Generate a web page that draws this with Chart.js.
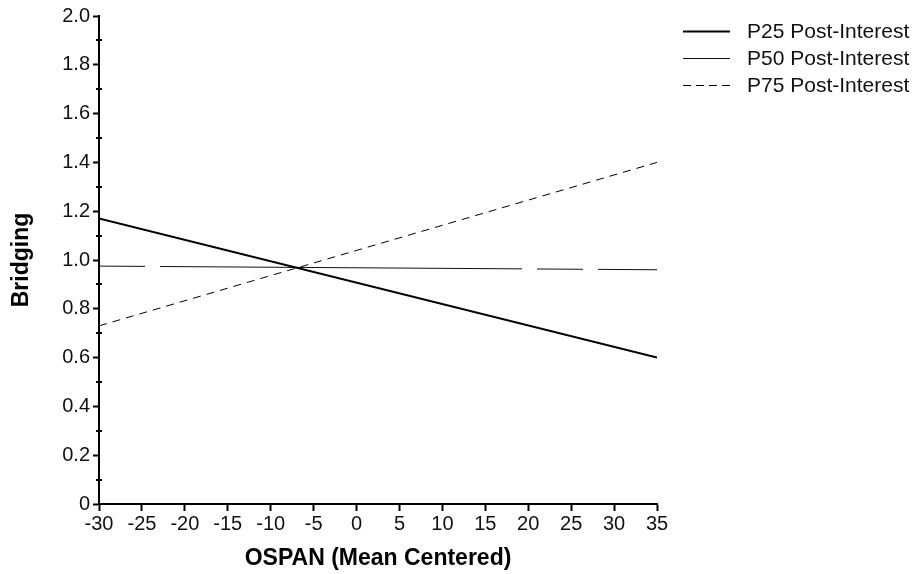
<!DOCTYPE html>
<html>
<head>
<meta charset="utf-8">
<script src="https://cdn.jsdelivr.net/npm/chart.js@4.4.1/dist/chart.umd.min.js"></script>
<style>
  html, body { margin: 0; padding: 0; background: #fff; }
  canvas { display: block; }
</style>
</head>
<body>
<canvas id="chart" width="917" height="574"></canvas>
<script>
// values
const ospan = [-30, 35];
const p25 = [1.17, 0.60];
const p50 = [0.975, 0.96];
const p75 = [0.73, 1.40];
const seriesLabels = ['P25 Post-Interest', 'P50 Post-Interest', 'P75 Post-Interest'];

const xTicks = [-30, -25, -20, -15, -10, -5, 0, 5, 10, 15, 20, 25, 30, 35];
const yTicks = [0, 0.2, 0.4, 0.6, 0.8, 1.0, 1.2, 1.4, 1.6, 1.8, 2.0];
const yMinorTicks = [0.1, 0.3, 0.5, 0.7, 0.9, 1.1, 1.3, 1.5, 1.7, 1.9];

const FONT = '"Liberation Sans", Arial, Helvetica, sans-serif';

function points(ys) {
  return ospan.map((x, i) => ({ x, y: ys[i] }));
}

// minor ticks crossing the y axis + the line legend on the right
const extras = {
  id: 'extras',
  afterDraw(chart) {
    const ctx = chart.ctx;
    const ys = chart.scales.y;
    const axisX = chart.chartArea.left;
    ctx.save();
    ctx.strokeStyle = '#000';
    ctx.lineWidth = 2;
    yMinorTicks.forEach(v => {
      const py = Math.round(ys.getPixelForValue(v));
      ctx.beginPath();
      ctx.moveTo(axisX - 3, py);
      ctx.lineTo(axisX + 3, py);
      ctx.stroke();
    });

    chart.data.datasets.forEach((ds, i) => {
      const y = 31 + i * 27;
      ctx.strokeStyle = ds.borderColor;
      ctx.lineWidth = ds.borderWidth;
      ctx.setLineDash(ds.legendDash || []);
      ctx.beginPath();
      ctx.moveTo(683, y + 0.5);
      ctx.lineTo(730, y + 0.5);
      ctx.stroke();
      ctx.setLineDash([]);
      ctx.fillStyle = '#111';
      ctx.font = '21px ' + FONT;
      ctx.textBaseline = 'middle';
      ctx.textAlign = 'left';
      ctx.fillText(ds.label, 747, y + 1);
    });
    ctx.restore();
  }
};

new Chart(document.getElementById('chart'), {
  type: 'line',
  data: {
    datasets: [
      {
        label: seriesLabels[0],
        data: points(p25),
        borderColor: '#000',
        borderWidth: 2,
        legendDash: []
      },
      {
        label: seriesLabels[1],
        data: points(p50),
        borderColor: '#111',
        borderWidth: 1,
        borderDash: [46, 15, 362, 15],
        legendDash: []
      },
      {
        label: seriesLabels[2],
        data: points(p75),
        borderColor: '#000',
        borderWidth: 1,
        borderDash: [8, 6],
        legendDash: [8, 5]
      }
    ]
  },
  options: {
    responsive: false,
    animation: false,
    events: [],
    elements: {
      point: { radius: 0 },
      line: { tension: 0, fill: false }
    },
    layout: { padding: { left: 0, top: 16, right: 260, bottom: 0 } },
    plugins: {
      legend: { display: false },
      tooltip: { enabled: false }
    },
    scales: {
      x: {
        type: 'linear',
        min: -30,
        max: 35,
        afterBuildTicks: s => { s.ticks = xTicks.map(v => ({ value: v })); },
        afterFit: s => { s.height = 70; },
        border: { display: true, color: '#000', width: 2 },
        grid: { drawOnChartArea: false, drawTicks: true, tickLength: 7, tickWidth: 2, tickColor: '#000' },
        ticks: {
          color: '#111',
          font: { family: FONT, size: 20 },
          padding: 1,
          maxRotation: 0,
          callback: v => String(v)
        },
        title: {
          display: true,
          text: 'OSPAN (Mean Centered)',
          color: '#000',
          font: { family: FONT, size: 23, weight: 'bold' },
          padding: { top: 0, bottom: 2 }
        }
      },
      y: {
        min: 0,
        max: 2,
        afterBuildTicks: s => { s.ticks = yTicks.map(v => ({ value: v })); },
        afterFit: s => { s.width = 99; },
        border: { display: true, color: '#000', width: 2 },
        grid: { drawOnChartArea: false, drawTicks: true, tickLength: 6, tickWidth: 2, tickColor: '#000' },
        ticks: {
          color: '#111',
          font: { family: FONT, size: 20 },
          padding: 3,
          callback: v => (v === 0 ? '0' : v.toFixed(1))
        },
        title: {
          display: true,
          text: 'Bridging',
          color: '#000',
          font: { family: FONT, size: 23, weight: 'bold' },
          padding: { top: 8, bottom: 0 }
        }
      }
    }
  },
  plugins: [extras]
});
</script>
</body>
</html>
